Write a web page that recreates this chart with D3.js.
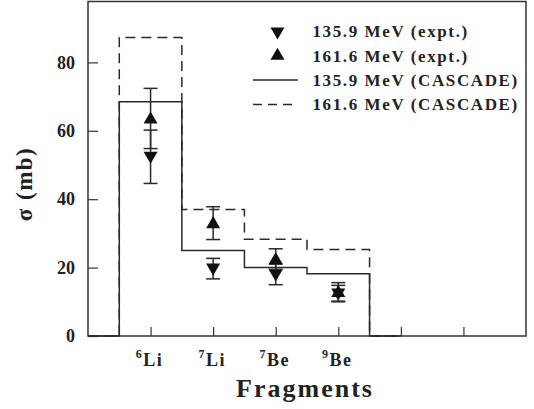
<!DOCTYPE html>
<html><head><meta charset="utf-8">
<script src="https://cdn.jsdelivr.net/npm/d3@7"></script>
<style>body{margin:0;background:#fff}svg{display:block}text{font-family:"Liberation Serif","Times New Roman",serif;font-weight:bold;fill:#222}</style>
</head><body><svg id="c" width="534" height="409"></svg>
<script>
const fragments = [{mass:"6", el:"Li"}, {mass:"7", el:"Li"}, {mass:"7", el:"Be"}, {mass:"9", el:"Be"}];
const fragPos = [1, 2, 3, 4];
const xTicks = [1, 2, 3, 4, 5, 6];
const yTicks = [0, 20, 40, 60, 80];
const binEdges = [0, 0.5, 1.5, 2.5, 3.5, 4.5, 5];
const cascade135 = [0, 68.5, 25, 20, 18.2, 0];
const cascade161 = [0, 87.3, 37, 28.3, 25.3, 0];
const expt135 = [52.4, 19.7, 18, 12.4];
const err135 = [7.8, 3.0, 3.0, 2.4];
const expt161 = [63.6, 33.0, 22.5, 12.9];
const err161 = [8.8, 4.8, 3.0, 2.7];

const svg = d3.select("#c");
const L = 88, R = 526, T = 1.5, B = 336;
const x = d3.scaleLinear().domain([0, 7]).range([L, R]);
const y = d3.scaleLinear().domain([0, 97.8]).range([B, T]);
const stroke = "#2a2a2a";

// frame
svg.append("rect").attr("x", L).attr("y", T).attr("width", R - L).attr("height", B - T)
  .attr("fill", "none").attr("stroke", "#333").attr("stroke-width", 1.5);

// ticks (inward)
svg.append("g").attr("transform", `translate(${L},0)`)
  .call(d3.axisRight(y).tickValues(yTicks).tickSize(10).tickFormat(""))
  .call(g => { g.select(".domain").remove(); g.selectAll("line").attr("stroke", "#333").attr("stroke-width", 1.2); });
svg.append("g").attr("transform", `translate(0,${B})`)
  .call(d3.axisTop(x).tickValues(xTicks).tickSize(9).tickFormat(""))
  .call(g => { g.select(".domain").remove(); g.selectAll("line").attr("stroke", "#333").attr("stroke-width", 1.2); });

// y tick labels
svg.append("g").selectAll("text").data(yTicks).join("text")
  .attr("x", L - 13).attr("y", d => y(d)).attr("dy", "0.35em").attr("text-anchor", "end")
  .attr("font-size", 18).text(d => d);

// x tick labels with superscripts
const xl = svg.append("g").selectAll("text").data(fragments).join("text")
  .attr("x", (d, i) => x(fragPos[i]) - 1).attr("y", 366).attr("text-anchor", "middle").attr("font-size", 18)
  .attr("letter-spacing", 1.5);
xl.append("tspan").attr("font-size", 12).attr("dy", -8).text(d => d.mass);
xl.append("tspan").attr("dy", 8).text(d => d.el);

// axis titles
svg.append("text").attr("x", 305).attr("y", 397).attr("text-anchor", "middle")
  .attr("font-size", 26).attr("letter-spacing", 2).text("Fragments");
svg.append("text").attr("transform", "translate(32,184) rotate(-90)").attr("text-anchor", "middle")
  .attr("font-size", 23).attr("letter-spacing", 1.5).text("σ (mb)");

// histograms
function histPts(vals) {
  const pts = [];
  vals.forEach((v, i) => { pts.push([x(binEdges[i]), y(v)]); pts.push([x(binEdges[i + 1]), y(v)]); });
  return pts;
}
const line = d3.line();
svg.append("path").attr("d", line(histPts(cascade161))).attr("fill", "none").attr("stroke", stroke)
  .attr("stroke-width", 1.5).attr("stroke-dasharray", "10,6");
svg.append("path").attr("d", line(histPts(cascade135))).attr("fill", "none").attr("stroke", stroke)
  .attr("stroke-width", 1.5);

// error bars & markers
const tri = d3.symbol().type(d3.symbolTriangle).size(85);
function series(vals, errs, down) {
  const g = svg.append("g");
  vals.forEach((v, i) => {
    const cx = x(fragPos[i]);
    const y0 = y(v - errs[i]), y1 = y(v + errs[i]);
    g.append("line").attr("x1", cx).attr("x2", cx).attr("y1", y0).attr("y2", y1).attr("stroke", stroke).attr("stroke-width", 1.5);
    [y0, y1].forEach(yy => g.append("line").attr("x1", cx - 7).attr("x2", cx + 7).attr("y1", yy).attr("y2", yy).attr("stroke", stroke).attr("stroke-width", 1.5));
    g.append("path").attr("d", tri()).attr("fill", "#111")
      .attr("transform", `translate(${cx},${y(v) + (down ? -1 : 1)}) rotate(${down ? 180 : 0})`);
  });
}
series(expt135, err135, true);
series(expt161, err161, false);

// legend
const lg = svg.append("g");
const rows = [
  {label: "135.9 MeV (expt.)", kind: "down"},
  {label: "161.6 MeV (expt.)", kind: "up"},
  {label: "135.9 MeV (CASCADE)", kind: "solid"},
  {label: "161.6 MeV (CASCADE)", kind: "dash"}
];
rows.forEach((r, i) => {
  const yy = 31.5 + i * 24.3;
  if (r.kind === "down" || r.kind === "up") {
    lg.append("path").attr("d", tri()).attr("fill", "#111")
      .attr("transform", `translate(277.5,${yy}) rotate(${r.kind === "down" ? 180 : 0})`);
  } else {
    lg.append("line").attr("x1", 253).attr("x2", 298).attr("y1", yy).attr("y2", yy).attr("stroke", stroke)
      .attr("stroke-width", 1.5).attr("stroke-dasharray", r.kind === "dash" ? "9,6" : null);
  }
  lg.append("text").attr("x", 312.5).attr("y", yy).attr("dy", "0.35em").attr("font-size", 17)
    .attr("letter-spacing", 1.6).text(r.label);
});
</script></body></html>
